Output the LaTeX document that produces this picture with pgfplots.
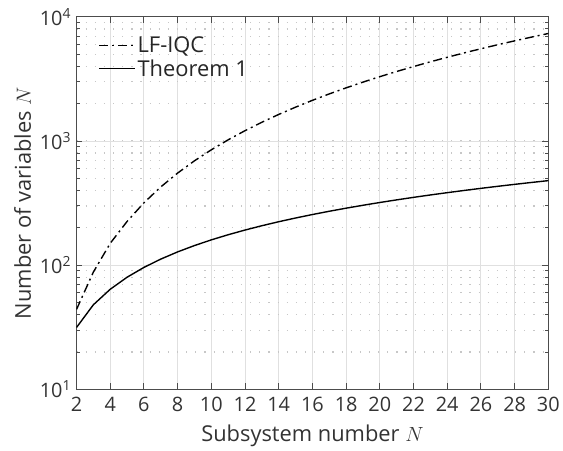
\documentclass[border=0pt]{standalone}
\usepackage{fontspec}
\setmainfont{Open Sans}
\usepackage{pgfplots}
\pgfplotsset{compat=1.18}

\pgfplotstableread{
N   lfiqc  thm
2   44     31.5
3   88     48
4   150    64
5   225    80
6   318    96
7   427    112
8   552    128
9   693    144
10  850    160
11  1023   176
12  1212   192
13  1417   208
14  1638   224
15  1875   240
16  2128   256
17  2397   272
18  2682   288
19  2983   304
20  3300   320
21  3633   336
22  3982   352
23  4347   368
24  4728   384
25  5125   400
26  5538   416
27  5967   432
28  6412   448
29  6873   464
30  7350   480
}\vars

\begin{document}
\begin{tikzpicture}
\begin{semilogyaxis}[
    name=ax,
    scale only axis,
    width=475bp,
    height=375bp,
    xmin=2, xmax=30,
    ymin=10, ymax=10000,
    xtick={2,4,...,30},
    ytick={10,100,1000,10000},
    yticklabels={10\textsuperscript{1},10\textsuperscript{2},10\textsuperscript{3},10\textsuperscript{4}},
    /pgf/number format/assume math mode=true,
    tick align=inside,
    major tick length=6bp,
    minor tick length=3.5bp,
    axis line style={line width=1.1bp, black!70},
    tick style={line width=1bp, black!70},
    grid=both,
    major grid style={line width=1bp, black!12},
    minor y grid style={line width=1.2bp, black!22, dash pattern=on 1.2bp off 8bp},
    minor x tick num=0,
    tick label style={font=\fontsize{20bp}{24bp}\selectfont, text=black!80},
    label style={font=\fontsize{22bp}{26bp}\selectfont, text=black!80},
    xticklabel style={yshift=-4bp},
    yticklabel style={xshift=-2bp},
    xlabel={Subsystem number $N$},
    ylabel={Number of variables $N$},
    xlabel style={yshift=-7bp},
    ylabel style={yshift=2bp},
    legend style={draw=none, fill=none, at={(0.04,0.958)}, anchor=north west,
        font=\fontsize{22bp}{26bp}\selectfont, row sep=1.5bp, text=black!85},
    legend cell align=left,
    legend image code/.code={\draw[#1] (0bp,0bp) -- (36bp,0bp);},
]
\addplot[black, line width=1.4bp, dash pattern=on 9bp off 4bp on 2bp off 4bp]
    table[x=N, y=lfiqc] {\vars};
\addlegendentry{LF-IQC}
\addplot[black, line width=1.4bp] table[x=N, y=thm] {\vars};
\addlegendentry{Theorem 1}
\end{semilogyaxis}
\path (ax.south west) ++(-77bp,0) rectangle ++(1bp,1bp);
\path (ax.north west) ++(0,17bp) rectangle ++(1bp,-1bp);
\end{tikzpicture}
\end{document}
